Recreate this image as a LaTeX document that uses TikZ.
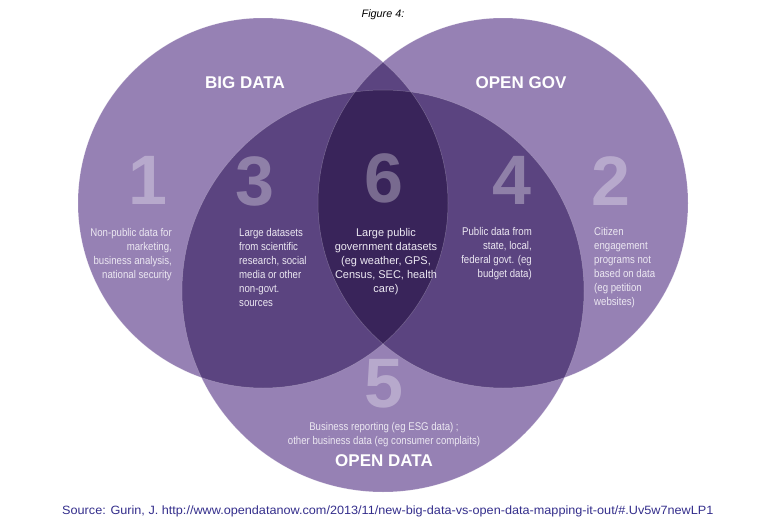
\documentclass[tikz,border=0pt]{standalone}
\usepackage{fontspec}
\setmainfont{Liberation Sans}
\newfontfamily\bodyfont{Liberation Sans}[FakeStretch=0.86]
\newfontfamily\bodyfontw{Liberation Sans}[FakeStretch=0.98]
\newfontfamily\srcfont{Liberation Sans}[FakeStretch=1.055]
\definecolor{vlight}{RGB}{150,129,180}
\definecolor{vmed}{RGB}{91,68,128}
\definecolor{vdark}{RGB}{57,36,90}
\definecolor{srcblue}{RGB}{52,46,140}
\definecolor{txtlight}{RGB}{236,232,242}
\tikzset{
  edge/.style={draw=white, draw opacity=0.25, line width=0.5pt},
  bignum/.style={inner sep=0pt, text=white, text opacity=0.32, font=\fontsize{70}{70}\selectfont\bfseries},
  body/.style={inner sep=0pt, text=txtlight, font=\bodyfont\fontsize{11.2}{14}\selectfont},
  bodyw/.style={inner sep=0pt, text=txtlight, font=\bodyfontw\fontsize{11.2}{14}\selectfont},
  heading/.style={inner sep=0pt, text=white, font=\fontsize{17}{17}\selectfont\bfseries},
}
\begin{document}
\begin{tikzpicture}[x=1pt,y=-1pt]
\useasboundingbox (0,0) rectangle (777,530);
\fill[white] (0,0) rectangle (777,530);
% base circles
\fill[vlight] (263,203) circle[radius=185pt];
\fill[vlight] (503,203) circle[radius=185pt];
\fill[vlight] (383,291) circle[radius=201pt];
% pairwise overlaps
\begin{scope}
  \clip (263,203) circle[radius=185pt];
  \fill[vmed] (503,203) circle[radius=185pt];
  \fill[vmed] (383,291) circle[radius=201pt];
\end{scope}
\begin{scope}
  \clip (503,203) circle[radius=185pt];
  \fill[vmed] (383,291) circle[radius=201pt];
\end{scope}
% triple overlap
\begin{scope}
  \clip (263,203) circle[radius=185pt];
  \clip (503,203) circle[radius=185pt];
  \fill[vdark] (383,291) circle[radius=201pt];
\end{scope}
% edges
\draw[edge] (263,203) circle[radius=185pt];
\draw[edge] (503,203) circle[radius=185pt];
\draw[edge] (383,291) circle[radius=201pt];

% title
\node[inner sep=0pt, font=\fontsize{10.8}{12}\selectfont\itshape] (title) at (383,15) {Figure 4:};

% headings
\node[heading] (hbig) at (245,83) {BIG DATA};
\node[heading] (hgov) at (521,83) {OPEN GOV};
\node[heading] (hopen) at (384,461) {OPEN DATA};

% numbers
\node[bignum] (n1) at (148,180) {1};
\node[bignum] (n3) at (255,181) {3};
\node[bignum] (n6) at (384,178) {6};
\node[bignum] (n4) at (512,180) {4};
\node[bignum] (n2) at (611,181) {2};
\node[bignum] (n5) at (384,384) {5};

% texts
\node[body, anchor=north east, align=right] (t1) at (172,228)
  {Non-public data for\\marketing,\\business analysis,\\national security};
\node[body, anchor=north west, align=left] (t3) at (239,228)
  {Large datasets\\from scientific\\research, social\\media or other\\non-govt.\\sources};
\node[bodyw, anchor=north, align=center] (t6) at (386,228)
  {Large public\\government datasets\\(eg weather, GPS,\\Census, SEC, health\\care)};
\node[body, anchor=north east, align=right] (t4) at (532,227)
  {Public data from\\state, local,\\federal govt. (eg\\budget data)};
\node[body, anchor=north west, align=left] (t2) at (594,227)
  {Citizen\\engagement\\programs not\\based on data\\(eg petition\\websites)};
\node[body, anchor=north, align=center] (t5) at (384,422)
  {Business reporting (eg ESG data) ;\\other business data (eg consumer complaits)};

% source
\node[inner sep=0pt, anchor=west, text=srcblue, font=\srcfont\fontsize{12}{13}\selectfont] (src) at (62,511)
  {Source: Gurin, J. http://www.opendatanow.com/2013/11/new-big-data-vs-open-data-mapping-it-out/\#.Uv5w7newLP1};
\end{tikzpicture}
\end{document}
